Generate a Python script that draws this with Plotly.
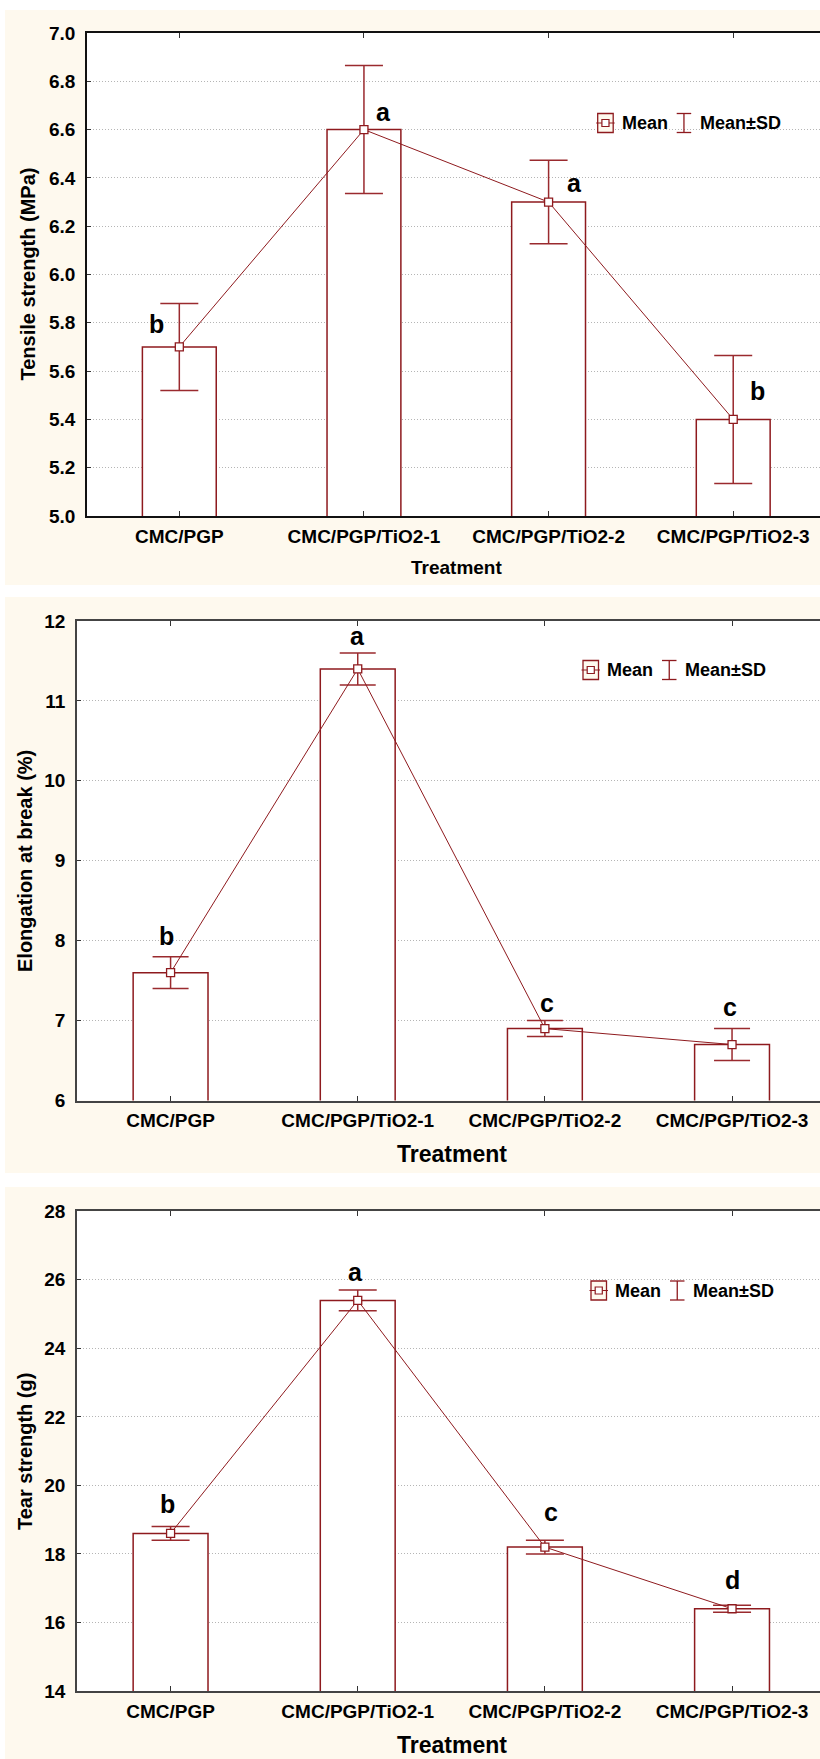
import plotly.graph_objects as go

# ---------------- data ----------------
categories = ["CMC/PGP", "CMC/PGP/TiO2-1", "CMC/PGP/TiO2-2", "CMC/PGP/TiO2-3"]

tensile_mean = [5.7, 6.6, 6.3, 5.4]
tensile_sd = [0.18, 0.265, 0.173, 0.265]
tensile_letters = ["b", "a", "a", "b"]

elong_mean = [7.6, 11.4, 6.9, 6.7]
elong_sd = [0.2, 0.2, 0.1, 0.2]
elong_letters = ["b", "a", "c", "c"]

tear_mean = [18.6, 25.4, 18.2, 16.4]
tear_sd = [0.2, 0.3, 0.2, 0.1]
tear_letters = ["b", "a", "c", "d"]

y_titles = ["Tensile strength (MPa)", "Elongation at break (%)", "Tear strength (g)"]
x_title = "Treatment"
legend_labels = ["Mean", "Mean±SD"]

# ---------------- style / layout ----------------
W, H = 820, 1759
RED = "#8E1A1E"
ERR = "#9A2A2E"
CREAM = "#FEF9EE"
FONT = "Liberation Sans, Arial, sans-serif"


def fx(x):
    return x / W


def fy(y):
    return 1 - y / H


panels = [
    dict(mean=tensile_mean, sd=tensile_sd, letters=tensile_letters,
         yrange=[5, 7], dtick=0.2, fmt=".1f",
         cream=(5, 10, 820, 585), plot=(87, 33, 820, 516),
         xt=(456, 567, 19), yt=(27, 274.5),
         lab_dx=[-23, 19.5, 26, 24], lab_y=[5.795, 6.673, 6.379, 5.518],
         leg=(597.7, 123), axcol="#111111", cap=19),
    dict(mean=elong_mean, sd=elong_sd, letters=elong_letters,
         yrange=[6, 12], dtick=1, fmt="d",
         cream=(5, 597, 820, 1173), plot=(77, 621, 820, 1100.5),
         xt=(452, 1154, 23), yt=(25, 861),
         lab_dx=[-4, 0, 2, -2], lab_y=[8.06, 11.81, 7.22, 7.17],
         leg=(583, 670), axcol="#444444", cap=18),
    dict(mean=tear_mean, sd=tear_sd, letters=tear_letters,
         yrange=[14, 28], dtick=2, fmt="d",
         cream=(5, 1187, 820, 1759), plot=(77, 1211.3, 820, 1691),
         xt=(452, 1745, 23), yt=(25, 1452),
         lab_dx=[-3.5, -2, 6.5, 0], lab_y=[19.47, 26.23, 19.22, 17.24],
         leg=(591, 1290.5), axcol="#444444", cap=19),
]

fig = go.Figure()
shapes = []
annotations = []
layout_axes = {}

for i, p in enumerate(panels, start=1):
    xa = "x" if i == 1 else f"x{i}"
    ya = "y" if i == 1 else f"y{i}"
    xkey = "xaxis" if i == 1 else f"xaxis{i}"
    ykey = "yaxis" if i == 1 else f"yaxis{i}"

    # backgrounds
    cx0, cy0, cx1, cy1 = p["cream"]
    shapes.append(dict(type="rect", xref="paper", yref="paper", layer="below",
                       x0=fx(cx0), x1=fx(cx1), y0=fy(cy1), y1=fy(cy0),
                       fillcolor=CREAM, line=dict(width=0)))
    px0, py0, px1, py1 = p["plot"]
    shapes.append(dict(type="rect", xref="paper", yref="paper", layer="below",
                       x0=fx(px0), x1=fx(px1), y0=fy(py1), y1=fy(py0),
                       fillcolor="white", line=dict(width=0)))

    fig.add_trace(go.Bar(
        x=categories, y=p["mean"], xaxis=xa, yaxis=ya, width=0.4,
        marker=dict(color="white", line=dict(color=RED, width=1.5)),
        showlegend=False, hoverinfo="skip"))
    fig.add_trace(go.Scatter(
        x=categories, y=p["mean"], xaxis=xa, yaxis=ya, mode="lines+markers",
        line=dict(color=RED, width=1),
        marker=dict(symbol="square", size=8, color="white",
                    line=dict(color=RED, width=1.3)),
        error_y=dict(type="data", array=p["sd"], visible=True, color=ERR,
                     thickness=1.5, width=p["cap"]),
        showlegend=False))

    layout_axes[xkey] = dict(
        domain=[fx(px0), fx(px1)], anchor=ya, type="category", automargin=False,
        range=[-0.5, 3.47], showline=True, linecolor=p["axcol"], linewidth=1.5,
        mirror="ticks", ticks="inside", ticklen=5, tickcolor="#333333",
        showgrid=False, zeroline=False,
        tickfont=dict(family=FONT, size=19, color="black", weight="bold"),
        ticklabelstandoff=2)
    layout_axes[ykey] = dict(
        domain=[fy(py1), fy(py0)], anchor=xa, range=p["yrange"], dtick=p["dtick"],
        automargin=False,
        tickformat=p["fmt"], showline=True, linecolor=p["axcol"], linewidth=1.5,
        ticks="inside", ticklen=4, tickcolor="#333333",
        showgrid=True, gridcolor="#B5B5B5", griddash="1px,2px", gridwidth=1,
        zeroline=False,
        tickfont=dict(family=FONT, size=19, color="black", weight="bold"),
        ticklabelstandoff=6)

    # significance letters
    for k, (letter, dx, yv) in enumerate(zip(p["letters"], p["lab_dx"], p["lab_y"])):
        annotations.append(dict(
            x=categories[k], y=yv, xref=xa, yref=ya, text=letter, showarrow=False,
            xshift=dx, xanchor="center", yanchor="middle",
            font=dict(family=FONT, size=25, color="black", weight="bold")))

    # axis titles
    tx, ty, ts = p["xt"]
    annotations.append(dict(x=fx(tx), y=fy(ty), xref="paper", yref="paper",
                            text=x_title, showarrow=False, xanchor="center",
                            yanchor="middle",
                            font=dict(family=FONT, size=ts, color="black", weight="bold")))
    yx, yy = p["yt"]
    annotations.append(dict(x=fx(yx), y=fy(yy), xref="paper", yref="paper",
                            text=y_titles[i - 1], showarrow=False, textangle=-90,
                            xanchor="center", yanchor="middle",
                            font=dict(family=FONT, size=20, color="black", weight="bold")))

    # custom legend
    lx, ly = p["leg"]
    shapes.append(dict(type="rect", xref="paper", yref="paper",
                       x0=fx(lx), x1=fx(lx + 15.5), y0=fy(ly + 9.5), y1=fy(ly - 9.5),
                       fillcolor=CREAM, line=dict(color=RED, width=1.3)))
    shapes.append(dict(type="line", xref="paper", yref="paper",
                       x0=fx(lx - 1.5), x1=fx(lx + 17), y0=fy(ly), y1=fy(ly),
                       line=dict(color=RED, width=1)))
    shapes.append(dict(type="rect", xref="paper", yref="paper",
                       x0=fx(lx + 4.2), x1=fx(lx + 11.3), y0=fy(ly + 3.5), y1=fy(ly - 3.5),
                       fillcolor="white", line=dict(color=RED, width=1.2)))
    bx = lx + 79
    shapes.append(dict(type="line", xref="paper", yref="paper",
                       x0=fx(bx + 7.25), x1=fx(bx + 7.25), y0=fy(ly + 9.5), y1=fy(ly - 9.5),
                       line=dict(color=RED, width=1.3)))
    for yy_ in (ly - 9.5, ly + 9.5):
        shapes.append(dict(type="line", xref="paper", yref="paper",
                           x0=fx(bx), x1=fx(bx + 14.5), y0=fy(yy_), y1=fy(yy_),
                           line=dict(color=RED, width=1.3)))
    for txt, off in zip(legend_labels, (24, 102)):
        annotations.append(dict(x=fx(lx + off - 2), y=fy(ly), xref="paper", yref="paper",
                                text=txt, showarrow=False, xanchor="left",
                                yanchor="middle",
                                font=dict(family=FONT, size=18, color="black", weight="bold")))

fig.update_layout(
    width=W, height=H, autosize=False,
    margin=dict(l=0, r=0, t=0, b=0, pad=0, autoexpand=False),
    paper_bgcolor="white", plot_bgcolor="rgba(0,0,0,0)",
    showlegend=False, shapes=shapes, annotations=annotations,
    font=dict(family=FONT),
    **layout_axes)

fig.write_html(
    "out.html",
    config={"displayModeBar": False, "responsive": False},
    post_script=("document.documentElement.style.margin='0';"
                 "document.body.style.margin='0';"
                 "document.body.style.padding='0';"
                 "document.documentElement.style.overflow='hidden';"
                 "document.body.style.overflow='hidden';"))
